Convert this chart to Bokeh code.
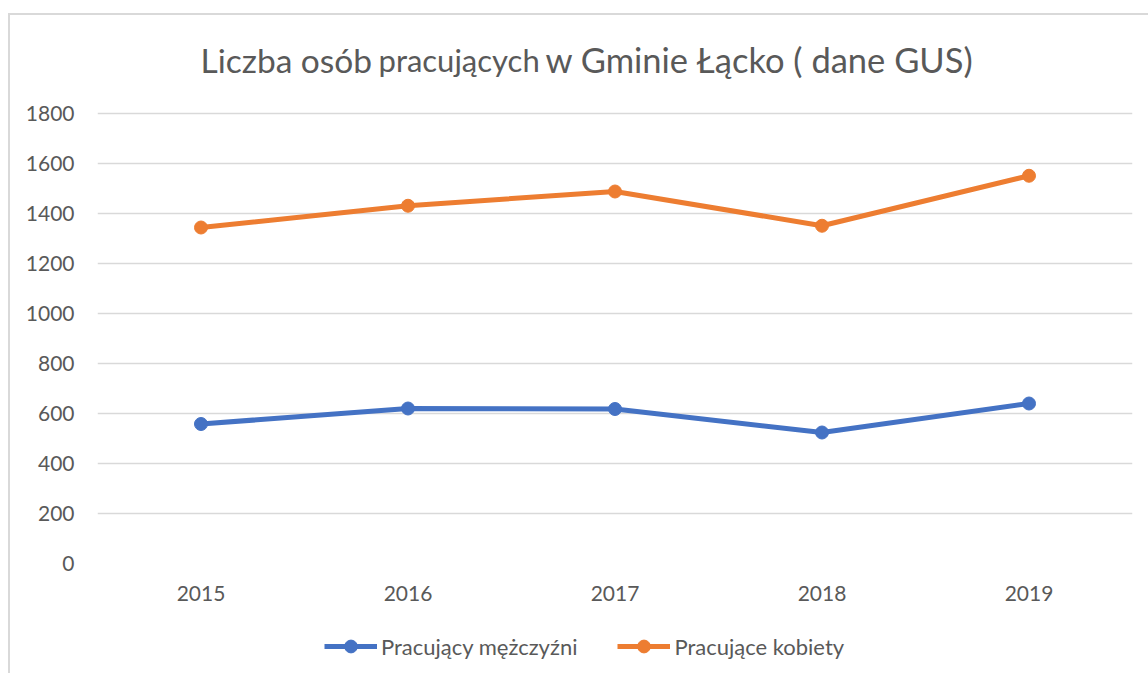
from bokeh.plotting import figure
from bokeh.models import FactorRange, Range1d, Legend, LegendItem, FixedTicker, Label
from bokeh.layouts import column
from bokeh.embed import file_html
from bokeh.resources import INLINE

years = ["2015", "2016", "2017", "2018", "2019"]
men = [558, 620, 618, 524, 640]
women = [1344, 1431, 1488, 1351, 1551]
y_ticks = [0, 200, 400, 600, 800, 1000, 1200, 1400, 1600, 1800]
series_names = ["Pracujący mężczyźni", "Pracujące kobiety"]
title_parts = ["Liczba osób", "pracujących", "w Gminie Łącko ( dane GUS)"]

BLUE = "#4472C4"
ORANGE = "#ED7D31"
GREY = "#595959"
FONT = "Lato"

# main chart: frame 543 px tall for 0..2172 (4 units per px); title in its upper, gridless part
p = figure(width=1138, height=610, x_range=FactorRange(*years), y_range=Range1d(0, 2172),
           output_backend="svg", toolbar_location=None,
           min_border_left=87, min_border_right=16, min_border_top=5, min_border_bottom=62)
p.margin = 0
p.outline_line_color = None
p.background_fill_color = "white"
p.border_fill_color = "white"

p.xgrid.visible = False
p.ygrid.grid_line_color = "#d9d9d9"
p.ygrid.grid_line_width = 1.5
p.yaxis.ticker = FixedTicker(ticks=y_ticks)

for ax in (p.xaxis[0], p.yaxis[0]):
    ax.axis_line_color = None
    ax.major_tick_line_color = None
    ax.minor_tick_line_color = None
    ax.major_tick_out = 0
    ax.major_tick_in = 0
    ax.major_label_text_font = FONT
    ax.major_label_text_font_size = "21px"
    ax.major_label_text_color = GREY
p.yaxis.major_label_standoff = 23
p.xaxis.major_label_standoff = 22

def draw_series(fig):
    r = []
    for vals, col in ((men, BLUE), (women, ORANGE)):
        ln = fig.line(years, vals, line_color=col, line_width=5)
        sc = fig.scatter(years, vals, size=13, fill_color=col, line_color=col)
        r.append([ln, sc])
    return r

draw_series(p)

band = 207.0
def xs(px):
    return (px - 97) / band
def ys(py):
    return (563 - py) * 4

sizes = ["33.5px", "31px", "34.5px"]
starts = [200, 378, 545]
for txt, sz, sx in zip(title_parts, sizes, starts):
    p.add_layout(Label(x=xs(sx), y=ys(59), text=txt, text_font=FONT, text_font_size=sz,
                       text_color=GREY, text_align="left", text_baseline="alphabetic"))

# legend strip below the chart; same series drawn out of its (empty) view as legend keys
pl = figure(width=1138, height=48, x_range=FactorRange(*years), y_range=Range1d(-2, -1),
            output_backend="svg", toolbar_location=None,
            x_axis_location=None, y_axis_location=None, min_border=0)
pl.margin = 0
pl.outline_line_color = None
pl.grid.visible = False
keys = draw_series(pl)
legend = Legend(items=[LegendItem(label=series_names[0], renderers=keys[0]),
                       LegendItem(label=series_names[1], renderers=keys[1])],
                orientation="horizontal", location=(227, 11),
                glyph_width=53, glyph_height=32, label_standoff=4, spacing=40,
                padding=0, margin=0, border_line_color=None, background_fill_alpha=0,
                label_text_font=FONT, label_text_font_size="22px", label_text_color=GREY)
pl.add_layout(legend, "center")

layout = column(p, pl, spacing=0)
layout.styles = {"margin-left": "8px", "margin-top": "13px",
                 "border-left": "2px solid #d9d9d9", "border-top": "2px solid #d9d9d9",
                 "background-color": "white"}

open("out.html", "w").write(file_html(layout, INLINE))
